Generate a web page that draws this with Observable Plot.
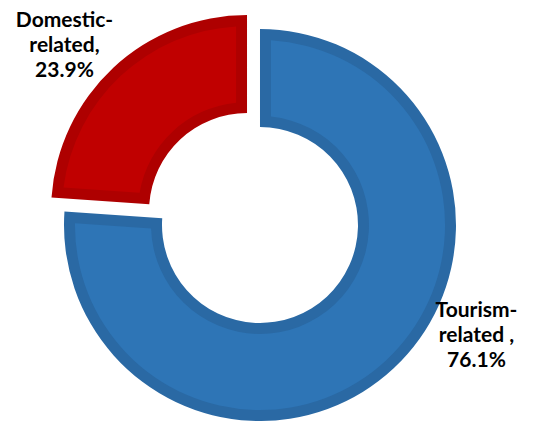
<!DOCTYPE html>
<html><head><meta charset="utf-8">
<script src="https://cdn.jsdelivr.net/npm/d3@7"></script>
<script src="https://cdn.jsdelivr.net/npm/@observablehq/plot@0.6"></script>
<style>html,body{margin:0;padding:0;background:#fff}</style>
</head><body><div id="chart"></div>
<script>
// Data
const categories = ["Tourism-related", "Domestic-related"];
const values = [76.1, 23.9];
const labelLines = ["Tourism-\nrelated ,", "Domestic-\nrelated,"];

// Style / layout
const fills = ["#2E75B6", "#C00000"];
const borders = ["#2A69A4", "#AE0000"];
const explode = [0, 0.097];          // in units of outer radius
const labelPos = [[1.102, -0.553], [-1.0, 0.926]]; // label anchors, unit coords
const holeRatio = 0.5;
const borderRatio = 0.056;

const data = categories.map((c, i) => ({
  category: c, value: values[i], fill: fills[i], border: borders[i], explode: explode[i],
  label: `${labelLines[i]}\n${values[i].toFixed(1)}%`, lx: labelPos[i][0], ly: labelPos[i][1]
}));

function donut(index, scales) {
  const {x, y} = scales;
  const cx = x(0), cy = y(0), r = x(1) - x(0);
  const inner = r * holeRatio, bw = r * borderRatio;
  const arcs = d3.pie().sort(null).value(d => d.value)(data);
  const g = d3.create("svg:g");
  arcs.forEach((p, i) => {
    const d = data[i];
    const mid = (p.startAngle + p.endAngle) / 2;
    const off = d.explode * r;
    const gi = g.append("g")
      .attr("transform", `translate(${cx + Math.sin(mid) * off},${cy - Math.cos(mid) * off})`);
    gi.append("path")
      .attr("d", d3.arc().innerRadius(inner).outerRadius(r)(p))
      .attr("fill", d.border);
    gi.append("path")
      .attr("d", d3.arc().innerRadius(inner + bw).outerRadius(r - bw)
        .padRadius(inner).padAngle(2 * bw / inner)(p))
      .attr("fill", d.fill);
  });
  return g.node();
}

const chart = Plot.plot({
  width: 534,
  height: 421,
  margin: 0,
  x: {domain: [-1.3265, 1.398], axis: null},
  y: {domain: [-1.0, 1.148], axis: null},
  marks: [
    donut,
    Plot.text(data, {
      x: "lx", y: "ly", text: "label",
      fontSize: 21, fontWeight: "bold", fontFamily: "Lato",
      lineHeight: 25 / 21, fill: "#000", textAnchor: "middle"
    })
  ]
});
document.getElementById("chart").appendChild(chart);
</script>
</body></html>
